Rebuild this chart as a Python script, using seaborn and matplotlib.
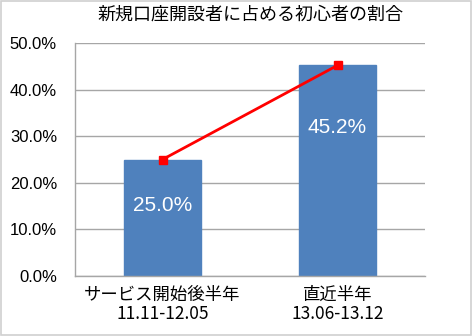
import matplotlib
matplotlib.use("Agg")
import matplotlib.pyplot as plt
import seaborn as sns
import pandas as pd
from matplotlib.patches import Rectangle

categories = ["サービス開始後半年\n11.11-12.05", "直近半年\n13.06-13.12"]
values = [25.0, 45.2]
value_labels = ["25.0%", "45.2%"]
yticks = [0, 10, 20, 30, 40, 50]
ytick_labels = ["0.0%", "10.0%", "20.0%", "30.0%", "40.0%", "50.0%"]
title = "新規口座開設者に占める初心者の割合"

sns.set_theme(style="white")
plt.rcParams['font.family'] = ['Liberation Sans', 'Noto Sans CJK JP', 'DejaVu Sans']

df = pd.DataFrame({"cat": categories, "val": values})

fig = plt.figure(figsize=(4.72, 3.36), dpi=100)
ax = fig.add_axes([75/472, 60/336, 350/472, 233/336])

sns.barplot(data=df, x="cat", y="val", color="#4f81bd", width=0.44, ax=ax,
            saturation=1, edgecolor="#4f81bd")
ax.plot(range(len(values)), values, color="#ff0000", lw=2, marker="s",
        markersize=6, zorder=5)

label_offsets = [9.9, 13.3]
for i, (v, lab) in enumerate(zip(values, value_labels)):
    ax.text(i, v - label_offsets[i], lab, color="white", ha="center", va="center",
            fontsize=15)

ax.set_ylim(0, 50)
ax.set_xlim(-0.5, 1.5)
ax.set_yticks(yticks)
ax.set_yticklabels(ytick_labels, fontsize=12, color="black")
ax.tick_params(axis="x", colors="black", pad=7, length=0)
for t in ax.get_xticklabels():
    t.set_fontfamily(['Noto Sans CJK JP', 'DejaVu Sans'])
    t.set_fontsize(12.5)
    t.set_linespacing(1.1)
ax.tick_params(axis="y", pad=13, length=0)
ax.set_xlabel("")
ax.set_ylabel("")
ax.yaxis.grid(True, color="#a6a6a6", lw=1)
ax.set_axisbelow(True)
for s in ["top", "right"]:
    ax.spines[s].set_visible(False)
for s in ["left", "bottom"]:
    ax.spines[s].set_color("#a6a6a6")
    ax.spines[s].set_linewidth(1)

fig.text(250/472, 1 - 15/336, title, ha="center", va="center", fontsize=13,
         color="black", family=['Noto Sans CJK JP', 'DejaVu Sans'])
fig.patches.append(Rectangle((0.002, 0.003), 0.995, 0.994, transform=fig.transFigure,
                             fill=False, edgecolor="#d0d0d0", lw=1.2))

fig.savefig("out.png", dpi=100)
